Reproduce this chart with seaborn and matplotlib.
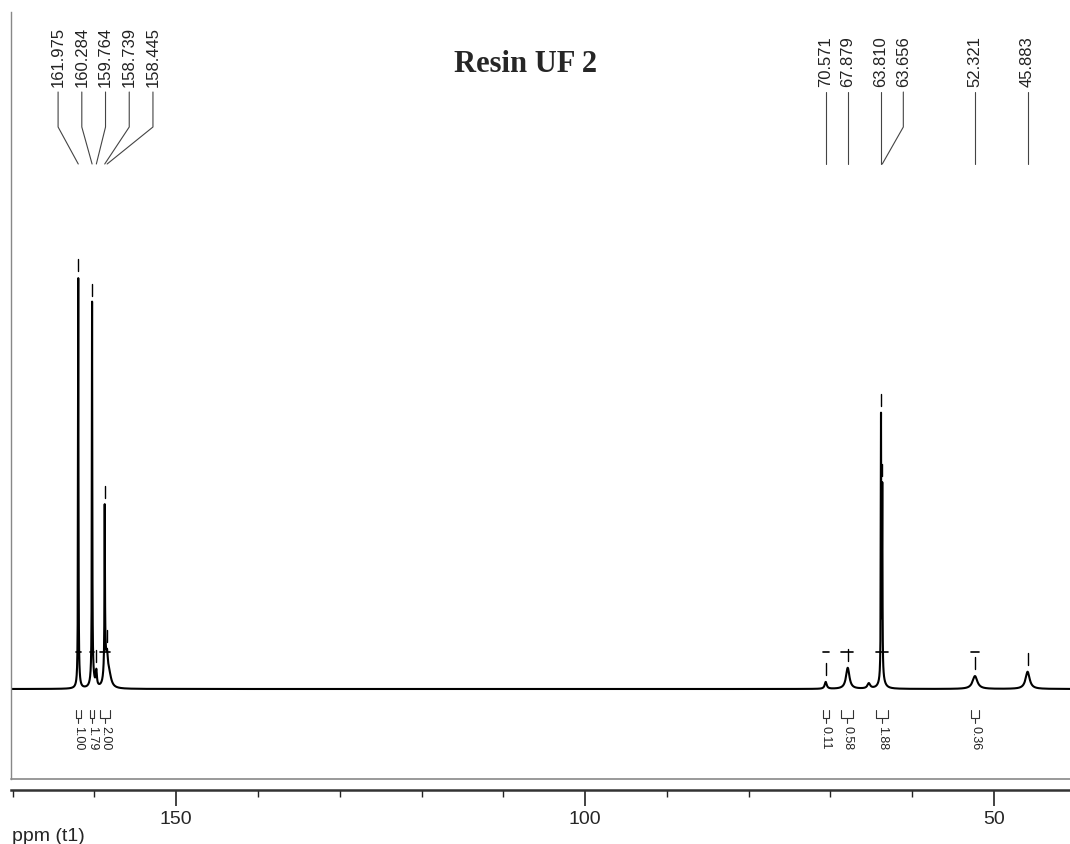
#!/usr/bin/env python

import numpy as np
import pandas as pd
import matplotlib
matplotlib.use("Agg")
import matplotlib.pyplot as plt
import seaborn as sns

from matplotlib.ticker import MultipleLocator

# picked peaks, heights (arbitrary units, tallest ~95)
peak_ppm = [161.975, 160.284, 159.764, 158.739, 158.445,
            70.571, 67.879, 63.810, 63.656, 52.321, 45.883]
peak_height = [92.5, 86, 3.5, 34, 5, 1.6, 4.9, 60, 43, 3.0, 4.0]
peak_hwhm = [0.03, 0.03, 0.08, 0.03, 0.12, 0.15, 0.25, 0.03, 0.03, 0.35, 0.3]

# unlabelled feet / shoulders under the main lines
foot_ppm = [161.95, 160.25, 158.7, 158.2, 65.3, 63.7]
foot_height = [3, 4, 8, 3, 1.2, 3]
foot_hwhm = [0.15, 0.2, 0.15, 0.3, 0.2, 0.3]

# integral regions and values
integ_from = [162.3, 160.6, 159.3, 70.9, 68.7, 64.4, 52.8]
integ_to = [161.7, 160.0, 158.1, 70.2, 67.2, 62.9, 51.8]
integ_value = ["1.00", "1.79", "2.00", "0.11", "0.58", "1.88", "0.36"]

major_ticks = [150, 100, 50]

# layout helpers (reference pixel rows -> intensity units)
BASE_PX, PX_PER_UNIT = 690, 4.3


def yu(px):
    return (BASE_PX - px) / PX_PER_UNIT


def lorentz(x, x0, h, g):
    return h / (1 + ((x - x0) / g) ** 2)


def build_spectrum():
    ppm = np.arange(40.5, 170.5, 0.005)
    inten = np.zeros_like(ppm)
    for x0, h, g in zip(peak_ppm, peak_height, peak_hwhm):
        inten += lorentz(ppm, x0, h, g)
    for x0, h, g in zip(foot_ppm, foot_height, foot_hwhm):
        inten += lorentz(ppm, x0, h, g)
    return pd.DataFrame({"ppm": ppm, "intensity": inten})


def label_positions(ppms, min_gap=2.6, spacing=2.9, drift=1.2):
    # group crowded labels and fan them out
    groups = [[0]]
    for i in range(1, len(ppms)):
        if ppms[groups[-1][-1]] - ppms[i] < min_gap:
            groups[-1].append(i)
        else:
            groups.append([i])
    pos = list(ppms)
    for g in groups:
        if len(g) == 1:
            continue
        centre = np.mean([ppms[i] for i in g])
        n = len(g)
        for k, i in enumerate(g):
            pos[i] = centre + ((n - 1) / 2 - k) * spacing - drift
    return pos


def main():
    sns.set_style("ticks")
    plt.rcParams["font.family"] = ["Liberation Sans", "DejaVu Sans"]

    df = build_spectrum()

    fig = plt.figure(figsize=(10.7, 8.45), dpi=100)
    ax = fig.add_axes([11 / 1070, 65 / 845, 1059 / 1070, 767 / 845])

    sns.lineplot(data=df, x="ppm", y="intensity", ax=ax, color="black",
                 lw=1.5, estimator=None, sort=False)

    ax.set_xlim(170.2, 40.7)
    ax.set_ylim(yu(780), yu(13))

    # peak-pick ticks above each line
    for p in peak_ppm:
        top = np.interp(p, df["ppm"], df["intensity"])
        ax.plot([p, p], [top + 7 / PX_PER_UNIT, top + 19 / PX_PER_UNIT],
                color="black", lw=1)

    # peak labels with leader lines
    lpos = label_positions(peak_ppm)
    for p, lp in zip(peak_ppm, lpos):
        if abs(lp - p) < 0.3:
            lp = p
        ax.text(lp, yu(87), f"{p:.3f}", rotation=90, ha="center", va="bottom",
                fontsize=12, color="#222222")
        if lp == p:
            ax.plot([p, p], [yu(93), yu(165)], color="#444444", lw=0.8)
        else:
            ax.plot([lp, lp, p], [yu(93), yu(128), yu(165)], color="#444444", lw=0.8)

    # integrals: level marks and brackets with values
    for a, b, v in zip(integ_from, integ_to, integ_value):
        mid = (a + b) / 2
        ax.plot([a, b], [yu(653), yu(653)], color="black", lw=1.2)
        ax.plot([a, a, b, b], [yu(711), yu(719), yu(719), yu(711)], color="#333333", lw=0.8)
        ax.plot([mid, mid], [yu(719), yu(724)], color="#333333", lw=0.8)
        ax.text(mid, yu(726), v, rotation=-90, ha="center", va="top",
                fontsize=9, color="#222222")

    ax.text((525 - 11) / 1059, (780 - 72) / 767, "Resin UF 2", transform=ax.transAxes,
            ha="center", va="baseline", fontsize=22, fontweight="bold",
            family=["Liberation Serif", "DejaVu Serif"])

    # frame + ppm scale
    sns.despine(ax=ax, top=True, right=True)
    ax.spines["left"].set_color("#888888")
    ax.spines["left"].set_linewidth(1.0)
    ax.spines["bottom"].set_position(("outward", 8))
    ax.spines["bottom"].set_color("#333333")
    ax.spines["bottom"].set_linewidth(1.8)
    ax.axhline(yu(780), color="#999999", lw=1.4, clip_on=False)

    ax.set_yticks([])
    ax.set_ylabel("")
    ax.set_xlabel("")
    ax.set_xticks(major_ticks)
    ax.xaxis.set_minor_locator(MultipleLocator(10))
    ax.tick_params(axis="x", which="major", direction="out", length=11.5,
                   width=1.2, color="#222222", labelsize=14, pad=3)
    ax.tick_params(axis="x", which="minor", direction="out", length=5,
                   width=1.0, color="#222222")

    fig.text(12 / 1070, 4 / 845, "ppm (t1)", ha="left", va="baseline", fontsize=14)

    fig.savefig("out.png", dpi=100)


if __name__ == "__main__":
    main()
